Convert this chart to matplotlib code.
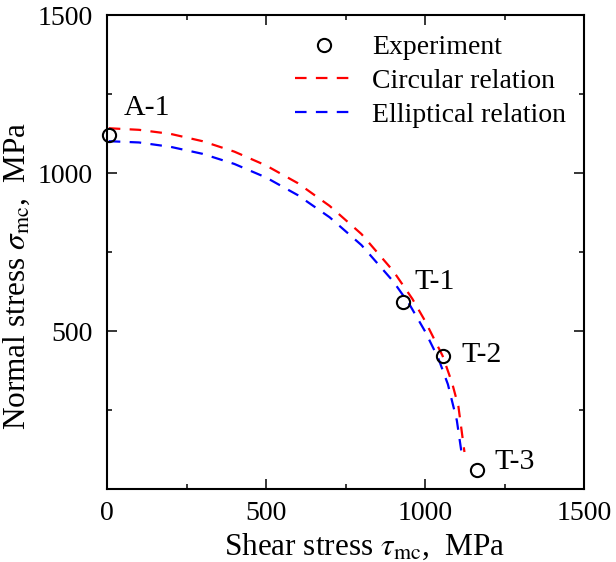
import matplotlib
matplotlib.use("Agg")
import matplotlib.pyplot as plt

plt.rcParams['font.family'] = ['Liberation Serif', 'DejaVu Serif']
plt.rcParams['mathtext.fontset'] = 'stix'

# Experimental points (shear stress, normal stress), MPa
exp_labels = ["A-1", "T-1", "T-2", "T-3"]
exp_tau = [5, 932, 1055, 1162]
exp_sigma = [1120, 592, 421, 60]

# Circular relation curve
circ_tau = [5, 100, 200, 300, 400, 500, 600, 700, 800, 900, 960, 1000, 1055, 1085, 1105, 1124]
circ_sigma = [1142, 1137, 1124, 1101, 1068, 1024, 968, 896, 807, 690, 602, 532, 422, 336, 261, 117]

# Elliptical relation curve
ell_tau = [5, 100, 200, 300, 400, 500, 600, 700, 800, 900, 950, 1000, 1042, 1072, 1100, 1118]
ell_sigma = [1101, 1097, 1083, 1061, 1029, 986, 930, 860, 772, 657, 586, 499, 413, 331, 217, 93]

fig = plt.figure(figsize=(6.16, 5.62), dpi=100)
ax = fig.add_axes([0.174, 0.130, 0.774, 0.843])

ax.plot(circ_tau, circ_sigma, color='#ff0000', lw=1.6, dashes=(5.2, 4.2), label='Circular relation')
ax.plot(ell_tau, ell_sigma, color='#0000ff', lw=1.6, dashes=(5.2, 4.2), label='Elliptical relation')
ax.plot(exp_tau, exp_sigma, 'o', ms=9.5, mfc='none', mec='black', mew=1.5,
        clip_on=False, label='Experiment', zorder=5)

offsets = {"A-1": (10.5, 19.5), "T-1": (8, 14.5), "T-2": (13.5, 0.5), "T-3": (13, 6)}
for lab, t, s in zip(exp_labels, exp_tau, exp_sigma):
    ax.annotate(lab, (t, s), xytext=offsets[lab], textcoords='offset points',
                ha='left', va='center', fontsize=21.5)

ax.set_xlim(0, 1500)
ax.set_ylim(0, 1500)
ax.set_xticks([0, 500, 1000, 1500])
ax.set_yticks([500, 1000, 1500])
ax.set_xticks([250, 750, 1250], minor=True)
ax.set_yticks([250, 750, 1250], minor=True)
ax.tick_params(which='both', direction='in', top=True, right=True, labelsize=20, width=1.1)
ax.tick_params(axis='y', which='major', length=7, pad=10.5)
ax.tick_params(axis='x', which='major', length=7, pad=8.5)
ax.tick_params(which='minor', length=3.5)
for sp in ax.spines.values():
    sp.set_linewidth(1.5)

ax.set_xlabel(r"Shear stress $\tau_{\rm mc}$,  MPa", fontsize=22.5, labelpad=4)
ax.set_ylabel(r"Normal stress $\sigma_{\rm mc}$,  MPa", fontsize=22.5, labelpad=4)
ax.xaxis.label.set_x(0.54)
ax.yaxis.label.set_y(0.45)

h, l = ax.get_legend_handles_labels()
order = [2, 0, 1]
ax.legend([h[i] for i in order], [l[i] for i in order], loc='upper left',
          bbox_to_anchor=(0.37, 0.982), frameon=False, fontsize=20,
          handlelength=2.1, handletextpad=0.7, labelspacing=0.3, borderaxespad=0)

fig.savefig("out.png", dpi=100)
